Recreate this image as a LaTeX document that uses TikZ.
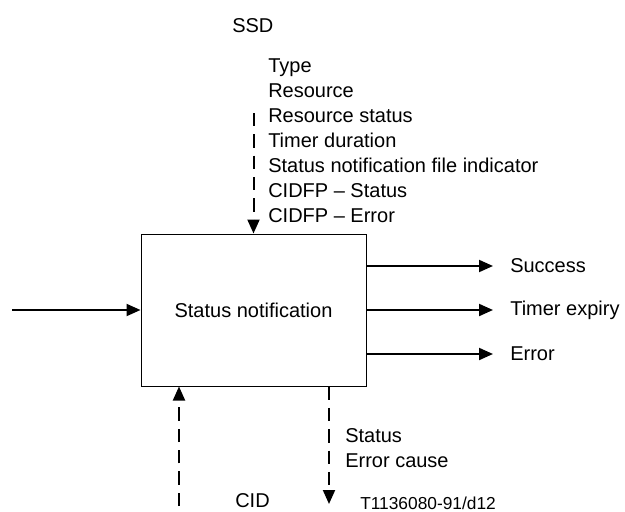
\documentclass[tikz,border=0pt]{standalone}
\usepackage{fontspec}
\setmainfont{Liberation Sans}
\usetikzlibrary{arrows.meta}
\usetikzlibrary{calc}

\begin{document}
\begin{tikzpicture}[%
x=0.75pt, y=-0.75pt,
>={Triangle[length=10.5pt,width=9pt]},
block/.style={draw, line width=0.75pt, inner sep=0, minimum width=168.75pt, minimum height=114pt, font=\fontsize{15}{18}\selectfont},
flow/.style={->, line width=1.5pt},
data/.style={->, line width=1.5pt, dash pattern=on 10pt off 6pt},
txt/.style={anchor=base west, inner sep=0, font=\fontsize{15}{18}\selectfont},
figcode/.style={anchor=base west, inner sep=0, font=\fontsize{13}{15}\selectfont},
]

\useasboundingbox (0,0) rectangle (625,511);

\pgfmathsetmacro{\sor}{25}

\node[block](box) at (253.5,310){Status notification};

% bemenet
\coordinate (be) at (12,310);
\draw[flow] (be)--(box.west);

% SSD
\node[txt](ssd) at (232,32){SSD};
\foreach \t [count=\i] in {Type, Resource, Resource status, Timer duration,
  Status notification file indicator, CIDFP -- Status, CIDFP -- Error}
  \node[txt](par\i) at (268,{72+\sor*(\i-1)}){\t};
\coordinate (ssdv) at (253.5,113);
\draw[data] (ssdv)--(box.north);

% kimenetek
\coordinate (ok) at (493,266);
\coordinate (lejart) at (493,310);
\coordinate (hiba) at (493,354);
\draw[flow] (box.east |- ok)--(ok);
\draw[flow] (box.east |- lejart)--(lejart);
\draw[flow] (box.east |- hiba)--(hiba);
\node[txt, anchor=west](okt) at (510,266){Success};
\node[txt, anchor=west](lejartt) at (510,310){Timer expiry};
\node[txt, anchor=west](hibat) at (510,354){Error};

% CID
\coordinate (cid) at (179,506);
\draw[data] (cid)--(cid |- box.south);
\node[txt](cidt) at (235,507){CID};

\coordinate (ki) at (329,504);
\draw[data] (ki |- box.south)--(ki);
\node[txt](st) at (345,442){Status};
\node[txt](errc) at ($(st.base west)+(0,\sor)$){Error cause};

\node[figcode](kod) at (360,509){T1136080-91/d12};

\end{tikzpicture}
\end{document}
